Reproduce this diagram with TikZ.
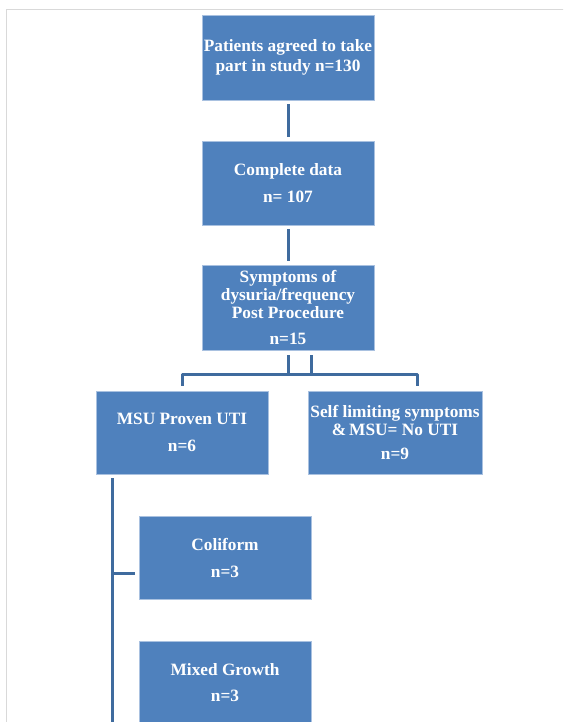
\documentclass[tikz,border=0pt]{standalone}
\usepackage{fontspec}
\setmainfont{Liberation Serif}
\definecolor{boxblue}{HTML}{4F81BD}
\definecolor{boxedge}{HTML}{A9C1E0}
\definecolor{connblue}{HTML}{3F6B9E}
\definecolor{framegray}{HTML}{D9D9D9}
\tikzset{
  flowbox/.style={rectangle, fill=boxblue, draw=boxedge, line width=0.8pt,
    text=white, align=center, inner sep=0pt,
    font=\bfseries\fontsize{17.3}{18}\selectfont},
  conn/.style={draw=connblue, line width=3pt},
}
\begin{document}
\begin{tikzpicture}[x=1pt,y=1pt]
\useasboundingbox (0,0) rectangle (563,-722);
\clip (0,0) rectangle (563,-722);
\fill[white] (0,0) rectangle (563,-722);
% frame
\draw[framegray, line width=1pt] (6,-740) -- (6,-9.5) -- (570,-9.5);

\node[flowbox, minimum width=172pt, minimum height=85pt, font=\bfseries\fontsize{17.3}{20}\selectfont] (b1) at (288,-57.5)
  {Patients agreed to take\\part in study n=130};
\node[flowbox, minimum width=172pt, minimum height=84pt] (b2) at (288,-183)
  {Complete data\\[9pt]n= 107};
\node[flowbox, minimum width=172pt, minimum height=85pt] (b3) at (288,-307.5)
  {Symptoms of\\dysuria/frequency\\Post Procedure\\[8pt]n=15};
\node[flowbox, minimum width=172pt, minimum height=83pt] (msu) at (182,-432.5)
  {MSU Proven UTI\\[9pt]n=6};
\node[flowbox, minimum width=174pt, minimum height=83pt] (self) at (395,-432.5)
  {Self limiting symptoms\\\&\,MSU= No UTI\\[6pt]n=9};
\node[flowbox, minimum width=172pt, minimum height=83pt] (colf) at (225,-557.5)
  {Coliform\\[9pt]n=3};
\node[flowbox, minimum width=172pt, minimum height=83pt] (mixed) at (225,-682.5)
  {Mixed Growth\\[8pt]n=3};

% connectors
\draw[conn] ([yshift=-4pt]b1.south) -- ([yshift=4pt]b2.north);
\draw[conn] ([yshift=-4pt]b2.south) -- ([yshift=4pt]b3.north);

\coordinate (hl) at (182,-374);
\coordinate (hr) at (417,-374);
\coordinate (b3r) at ([xshift=23pt,yshift=-5pt]b3.south);
\coordinate (selftop) at ([yshift=5pt]self.north);
\draw[conn] ([yshift=-5pt]b3.south) -- (b3.south |- hl);
\draw[conn] (b3r) -- (b3r |- hl);
\draw[conn, line join=round] ([yshift=5pt]msu.north) -- (msu.north |- hl) -- (hr) -- (hr |- selftop);

\coordinate (v) at (112,-478);
\coordinate (vb) at (112,-740);
\coordinate (cb) at ([xshift=-4pt,yshift=-15.5pt]colf.west);
\draw[conn] (v) -- (vb);
\draw[conn] (v |- cb) -- (cb);
\end{tikzpicture}
\end{document}
